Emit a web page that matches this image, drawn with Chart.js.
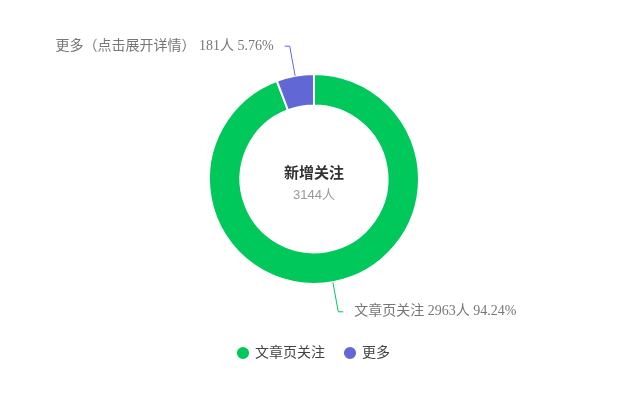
<!DOCTYPE html>
<html>
<head>
<meta charset="utf-8">
<script src="https://cdn.jsdelivr.net/npm/chart.js@4"></script>
<style>
  html, body { margin: 0; padding: 0; background: #fff; }
  #wrap { width: 629px; height: 404px; }
</style>
</head>
<body>
<div id="wrap"><canvas id="chart-follow" width="629" height="404"></canvas></div>
<script>
// data
const categories = ['文章页关注', '更多'];
const labelNames = ['文章页关注', '更多（点击展开详情）'];
const counts = [2963, 181];
const percents = ['94.24%', '5.76%'];
const totalCount = 3144;
const centerTitle = '新增关注';
const sliceColors = ['#00c85a', '#6267d6'];

const labelFont = '14px "Liberation Serif", "Noto Sans CJK SC", serif';

// outside labels with leader lines, and the text in the middle
const outerLabels = {
	id: 'outerLabels',
	afterDatasetsDraw(chart) {
		const ctx = chart.ctx;
		const meta = chart.getDatasetMeta(0);
		meta.data.forEach((arc, i) => {
			const p = arc.getProps(['x', 'y', 'startAngle', 'endAngle', 'outerRadius']);
			const mid = (p.startAngle + p.endAngle) / 2;
			const cos = Math.cos(mid), sin = Math.sin(mid);
			const x0 = p.x + cos * p.outerRadius, y0 = p.y + sin * p.outerRadius;
			const r1 = p.outerRadius + 30;
			const x1 = p.x + cos * r1, y1 = p.y + sin * r1;
			const dir = cos >= 0 ? 1 : -1;
			const x2 = x1 + dir * 5;
			ctx.save();
			ctx.strokeStyle = sliceColors[i];
			ctx.lineWidth = 1;
			ctx.beginPath();
			ctx.moveTo(x0, y0);
			ctx.lineTo(x1, y1);
			ctx.lineTo(x2, y1);
			ctx.stroke();
			ctx.font = labelFont;
			ctx.fillStyle = '#777';
			ctx.textBaseline = 'middle';
			ctx.textAlign = dir > 0 ? 'left' : 'right';
			ctx.fillText(labelNames[i] + ' ' + counts[i] + '人 ' + percents[i], x2 + dir * 11, y1);
			ctx.restore();
		});
		const c = meta.data[0];
		ctx.save();
		ctx.textAlign = 'center';
		ctx.textBaseline = 'middle';
		ctx.fillStyle = '#333';
		ctx.font = 'bold 15px "Liberation Sans", "Noto Sans CJK SC", sans-serif';
		ctx.fillText(centerTitle, c.x, c.y - 5);
		ctx.fillStyle = '#999';
		ctx.font = '13px "Liberation Sans", "Noto Sans CJK SC", sans-serif';
		ctx.fillText(totalCount + '人', c.x, c.y + 16);
		ctx.restore();
	}
};

const ctx = document.getElementById('chart-follow').getContext('2d');
const myChart = new Chart(ctx, {
	type: 'doughnut',
	data: {
		labels: categories,
		datasets: [{
			data: counts,
			backgroundColor: sliceColors,
			borderColor: '#fff',
			borderWidth: 2,
			hoverOffset: 0
		}]
	},
	options: {
		responsive: false,
		animation: false,
		cutout: '70%',
		layout: {
			padding: { top: 32, bottom: 34, left: 208, right: 209 }
		},
		plugins: {
			tooltip: { enabled: false },
			legend: {
				position: 'bottom',
				labels: {
					usePointStyle: true,
					pointStyle: 'circle',
					boxWidth: 10,
					boxHeight: 10,
					padding: 20,
					color: '#444',
					font: { size: 14, family: '"Liberation Serif", "Noto Sans CJK SC", serif' }
				}
			}
		}
	},
	plugins: [outerLabels]
});
</script>
</body>
</html>
